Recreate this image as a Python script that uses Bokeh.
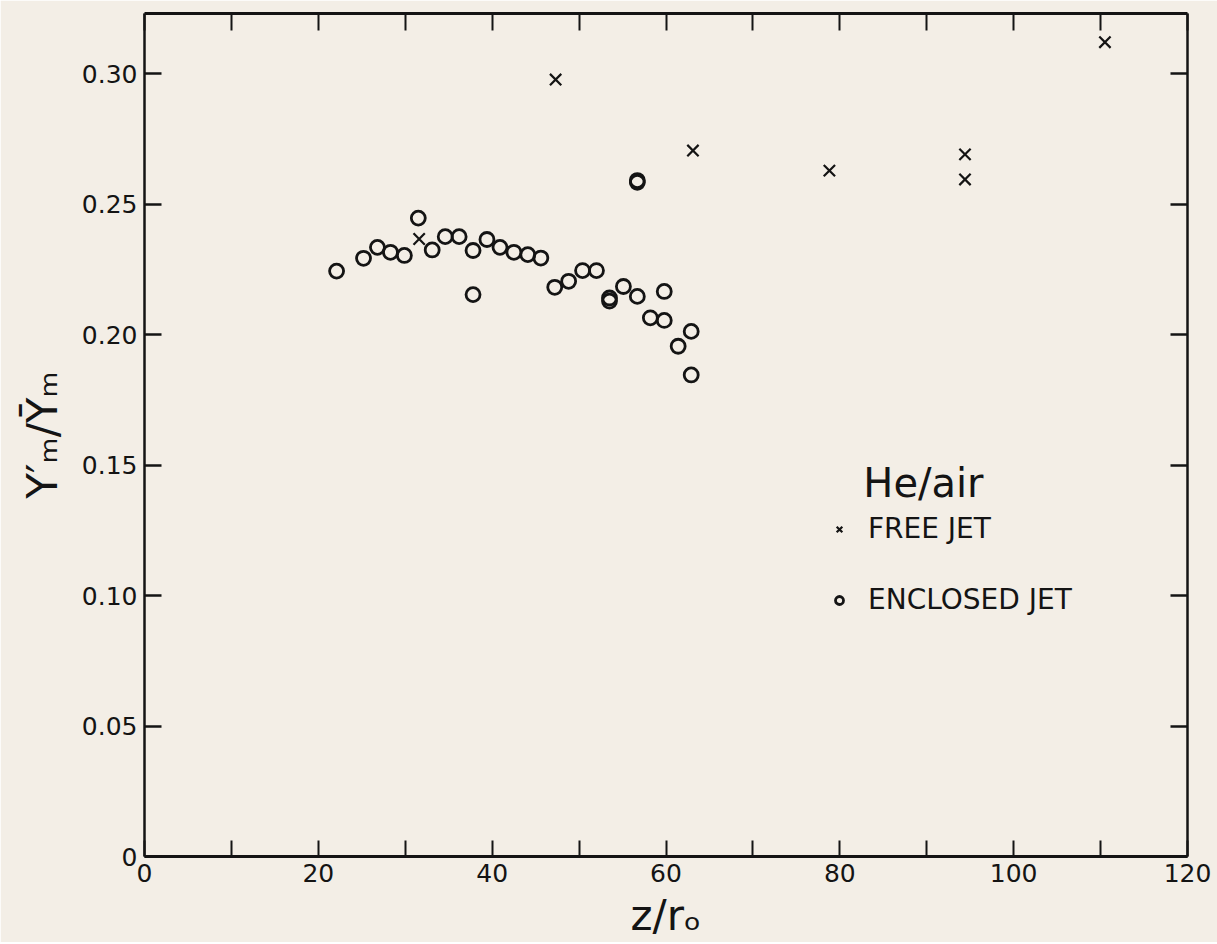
from bokeh.plotting import figure
from bokeh.models import (Range1d, FixedTicker, LinearAxis, Label, Legend,
                          LegendItem, NumeralTickFormatter)
from bokeh.embed import file_html
from bokeh.resources import INLINE

# ---- data ----
free_z = [31.6, 47.3, 63.1, 78.8, 94.4, 94.4, 110.5]
free_y = [0.2366, 0.2977, 0.2705, 0.2628, 0.2690, 0.2594, 0.3120]

enc_z = [22.1, 25.2, 26.8, 28.3, 29.9, 31.5, 33.1, 34.6, 36.2, 37.8, 37.8,
         39.4, 40.9, 42.5, 44.1, 45.6, 47.2, 48.8, 50.4, 52.0, 53.5, 53.5,
         55.1, 56.7, 56.7, 56.7, 58.2, 59.8, 59.8, 61.4, 62.9, 62.9]
enc_y = [0.2243, 0.2292, 0.2334, 0.2315, 0.2303, 0.2446, 0.2324, 0.2375,
         0.2375, 0.2322, 0.2153, 0.2364, 0.2334, 0.2315, 0.2306, 0.2293,
         0.2181, 0.2204, 0.2245, 0.2245, 0.2140, 0.2128, 0.2184, 0.2146,
         0.2590, 0.2583, 0.2064, 0.2165, 0.2054, 0.1955, 0.2012, 0.1845]

x_major = [0, 20, 40, 60, 80, 100, 120]
x_minor = [10, 30, 50, 70, 90, 110]
x_all = [0, 10, 20, 30, 40, 50, 60, 70, 80, 90, 100, 110, 120]
y_ticks = [0, 0.05, 0.10, 0.15, 0.20, 0.25, 0.30]

legend_title = "He/air"
label_free = "FREE JET"
label_enc = "ENCLOSED JET"

BG = "#f3eee6"
INK = "#141414"
FONT = "DejaVu Sans"

p = figure(frame_width=1043, frame_height=843,
           x_range=Range1d(0, 120), y_range=Range1d(0, 0.323),
           output_backend="svg", toolbar_location=None,
           min_border_left=144, min_border_right=30,
           min_border_top=13, min_border_bottom=86,
           background_fill_color=BG, border_fill_color=BG,
           outline_line_color=None)
p.grid.visible = False

# bottom axis
xa = p.xaxis[0]
xa.ticker = FixedTicker(ticks=x_major, minor_ticks=x_minor)
xa.major_tick_in = 16
xa.major_tick_out = 0
xa.minor_tick_in = 16
xa.minor_tick_out = 0
xa.axis_line_width = 3
xa.axis_line_color = INK
xa.major_tick_line_width = 2
xa.minor_tick_line_width = 2
xa.major_tick_line_color = INK
xa.minor_tick_line_color = INK
xa.major_label_text_font = FONT
xa.major_label_text_font_size = "25px"
xa.major_label_text_color = INK
xa.major_label_standoff = 7
xa.axis_label = "z/rₒ"
xa.axis_label_text_font = FONT
xa.axis_label_text_font_size = "42px"
xa.axis_label_text_font_style = "normal"
xa.axis_label_text_color = INK
xa.axis_label_standoff = 6

# left axis
ya = p.yaxis[0]
ya.ticker = FixedTicker(ticks=y_ticks, minor_ticks=[])
ya.formatter = NumeralTickFormatter(format="0.00")
ya.major_label_overrides = {0: "0"}
ya.major_tick_in = 17
ya.major_tick_out = 0
ya.minor_tick_in = 0
ya.minor_tick_out = 0
ya.axis_line_width = 2.5
ya.axis_line_color = INK
ya.major_tick_line_width = 2.5
ya.major_tick_line_color = INK
ya.major_label_text_font = FONT
ya.major_label_text_font_size = "25px"
ya.major_label_text_color = INK
ya.major_label_standoff = 7
ya.axis_label = "Y′ₘ/Ȳₘ"
ya.axis_label_text_font = FONT
ya.axis_label_text_font_size = "42px"
ya.axis_label_text_font_style = "normal"
ya.axis_label_text_color = INK
ya.axis_label_standoff = 12

# top axis (ticks only)
top = LinearAxis(ticker=FixedTicker(ticks=x_all, minor_ticks=[]),
                 major_label_overrides={t: "" for t in x_all},
                 major_label_standoff=0,
                 major_tick_in=17, major_tick_out=0, minor_tick_in=0,
                 minor_tick_out=0, axis_line_width=3, axis_line_color=INK,
                 major_tick_line_width=2, major_tick_line_color=INK)
p.add_layout(top, "above")

# right axis (ticks only)
right = LinearAxis(ticker=FixedTicker(ticks=y_ticks, minor_ticks=[]),
                   major_label_overrides={t: "" for t in y_ticks},
                   major_label_standoff=0,
                   major_tick_in=17, major_tick_out=0, minor_tick_in=0,
                   minor_tick_out=0, axis_line_width=2.5, axis_line_color=INK,
                   major_tick_line_width=2.5, major_tick_line_color=INK)
p.add_layout(right, "right")

r_free = p.scatter(free_z, free_y, marker="x", size=16,
                   line_color=INK, line_width=2.2)
r_enc = p.scatter(enc_z, enc_y, marker="circle", size=14,
                  fill_color=None, line_color=INK, line_width=2.8)

legend = Legend(items=[LegendItem(label=label_free, renderers=[r_free]),
                       LegendItem(label=label_enc, renderers=[r_enc])],
                location=(685, 240), padding=0, margin=0,
                border_line_color=None, background_fill_alpha=0,
                glyph_width=20, glyph_height=30, label_height=30,
                label_standoff=19, spacing=38,
                label_text_font=FONT, label_text_font_size="28px",
                label_text_color=INK)
p.add_layout(legend)

title = Label(x=82.7, y=0.1433, text=legend_title, text_font=FONT,
              text_font_size="40px", text_baseline="middle",
              text_color=INK)
p.add_layout(title)

open("out.html", "w").write(file_html(p, INLINE))
